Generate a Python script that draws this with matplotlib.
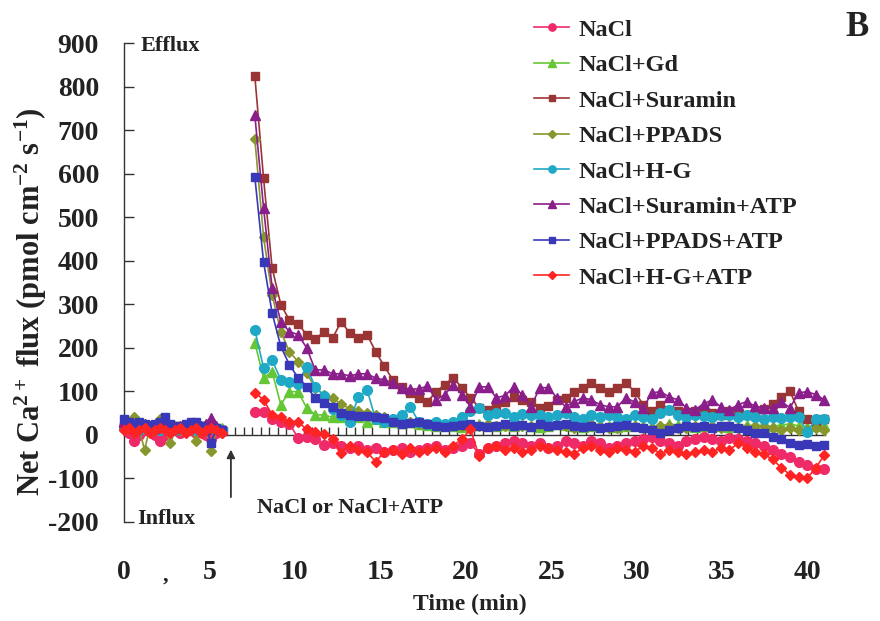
import numpy as np
import matplotlib
matplotlib.use("Agg")
import matplotlib.pyplot as plt
from matplotlib.ticker import FixedLocator

plt.rcParams['font.family'] = ['Liberation Serif', 'DejaVu Serif']
plt.rcParams['font.weight'] = 'bold'
plt.rcParams['axes.unicode_minus'] = False
plt.rcParams['mathtext.fontset'] = 'custom'
plt.rcParams['mathtext.rm'] = 'Liberation Serif:bold'
plt.rcParams['mathtext.it'] = 'Liberation Serif:bold'
plt.rcParams['mathtext.bf'] = 'Liberation Serif:bold'

# tiempos (min)
t_pre = [0.0, 0.3, 0.6, 0.9, 1.2, 1.5, 1.8, 2.1, 2.4, 2.7, 3.0, 3.3, 3.6, 3.9, 4.2, 4.5, 4.8, 5.1, 5.4, 5.7]
t_post = list(np.round(7.65 + 0.505 * np.arange(67), 2))

# antes del tratamiento
pre_nacl = [20, 5, -15, 0, 10, 10, 0, -15, 0, 10, 10, 5, 10, 10, 5, 10, 0, -10, 5, 10]
pre_gd = [25, 20, 15, 20, 25, 20, 15, 20, 25, 15, 20, 15, 20, 20, 15, 20, 25, 30, 20, 15]
pre_sur = [20, 15, 20, 25, 20, 15, 20, 25, 20, 15, 20, 15, 20, 25, 20, 15, 20, 25, 15, 10]
pre_ppads = [15, 25, 40, 10, -35, 15, 20, 35, 15, -20, 10, 10, 15, 20, -15, 10, 15, -38, 10, 5]
pre_hg = [15, 20, 15, 10, 15, 20, 15, 10, 20, 15, 10, 15, 20, 15, 10, 15, 20, 15, 10, 10]
pre_sur_atp = [30, 20, 15, 20, 25, 20, 15, 20, 25, 20, 15, 20, 15, 20, 25, 20, 25, 38, 20, 10]
pre_ppads_atp = [35, 30, 25, 30, 25, 20, 25, 30, 40, 25, 15, 20, 25, 30, 30, 20, 10, -18, 15, 10]
pre_hg_atp = [10, 15, 5, 10, 15, 5, 10, 15, 10, 5, 10, 15, 5, 10, 15, 5, 10, 15, 10, 5]

# despues del tratamiento
post_nacl = [53, 53, 35, 30, 25, -7, -5, -10, -23, -20, -25, -30, -25, -35, -30, -40, -35, -30, -40, -35,
             -30, -25, -35, -30, -25, -20, -45, -30, -25, -20, -15, -20, -25, -20, -30, -25, -15, -20, -25, -15,
             -20, -30, -25, -20, -15, -10, -5, -15, -20, -25, -15, -10, -5, -10, -15, -7, -10, -15, -20, -25,
             -35, -45, -51, -62, -70, -80, -80]
post_gd = [211, 131, 145, 69, 99, 99, 62, 46, 45, 40, 40, 35, 40, 30, 35, 30, 30, 28, 30, 25,
           22, 20, 25, 20, 18, 20, 25, 22, 20, 22, 20, 25, 20, 18, 20, 25, 22, 20, 18, 20,
           22, 20, 18, 20, 22, 20, 18, 20, 25, 22, 20, 18, 20, 22, 20, 18, 20, 22, 20, 18,
           20, 22, 25, 20, 18, 20, 22]
post_sur = [825, 590, 384, 299, 264, 255, 230, 220, 236, 222, 260, 234, 222, 230, 191, 157, 126, 110, 95, 85,
            76, 99, 115, 131, 108, 85, 62, 57, 64, 76, 87, 80, 76, 62, 65, 80, 85, 99, 108, 119,
            108, 99, 108, 119, 99, 69, 54, 69, 57, 55, 50, 55, 60, 50, 45, 55, 50, 45, 50, 60,
            70, 87, 100, 54, 35, 30, 35]
post_ppads = [680, 455, 322, 237, 191, 168, 142, 108, 92, 85, 70, 60, 55, 50, 45, 40, 35, 30, 30, 25,
              25, 20, 20, 25, 20, 15, 20, 25, 20, 20, 25, 20, 20, 25, 20, 25, 20, 15, 20, 25,
              20, 15, 15, 20, 20, 15, 15, 20, 20, 15, 15, 20, 20, 20, 15, 20, 15, 15, 20, 20,
              15, 10, 15, 10, 10, 15, 10]
post_hg = [241, 154, 172, 126, 122, 117, 156, 110, 90, 60, 45, 30, 87, 103, 35, 30, 35, 45, 64, 30,
           25, 30, 25, 30, 40, 55, 62, 45, 50, 50, 40, 48, 45, 46, 40, 45, 50, 40, 35, 45,
           40, 46, 40, 35, 45, 40, 35, 50, 57, 45, 40, 45, 42, 40, 45, 46, 40, 45, 40, 35,
           40, 38, 40, 40, 7, 35, 35]
post_sur_atp = [735, 522, 338, 260, 237, 230, 200, 149, 149, 140, 140, 135, 140, 140, 130, 126, 119, 108, 105, 105,
                112, 80, 92, 115, 92, 64, 110, 110, 85, 90, 110, 92, 64, 108, 108, 85, 64, 76, 85, 80,
                69, 64, 64, 85, 75, 62, 96, 99, 87, 80, 62, 57, 71, 80, 64, 57, 69, 76, 65, 62,
                62, 76, 62, 96, 99, 92, 80]
post_ppads_atp = [593, 398, 280, 203, 161, 131, 110, 85, 73, 64, 50, 45, 42, 42, 40, 38, 30, 25, 28, 30,
                  25, 20, 18, 20, 22, 25, 20, 18, 20, 25, 20, 22, 18, 25, 20, 22, 25, 20, 18, 20,
                  15, 18, 20, 22, 18, 15, 10, 5, 10, 15, 20, 18, 20, 15, 20, 20, 15, 10, 5, 5,
                  -5, -11, -18, -23, -22, -25, -23]
post_hg_atp = [97, 80, 46, 40, 30, 30, 12, 7, 2, -9, -41, -25, -35, -40, -62, -40, -35, -45, -30, -40,
               -35, -30, -40, -25, -10, 12, -50, -30, -25, -35, -30, -40, -35, -25, -30, -35, -40, -45, -30, -25,
               -35, -40, -30, -35, -40, -25, -30, -45, -35, -40, -45, -40, -35, -40, -30, -35, -20, -30, -40, -45,
               -57, -76, -92, -97, -100, -76, -46]

etiquetas = ["NaCl", "NaCl+Gd", "NaCl+Suramin", "NaCl+PPADS", "NaCl+H-G",
             "NaCl+Suramin+ATP", "NaCl+PPADS+ATP", "NaCl+H-G+ATP"]
colores = ['#EE2A68', '#66C736', '#993535', '#88962E', '#1FA9C6', '#8A1E8A', '#3838B8', '#FF2424']
marcas = ['o', '^', 's', 'D', 'o', '^', 's', 'D']
tam = [7, 7, 6, 5.5, 7, 7.5, 6, 5.5]
pre = [pre_nacl, pre_gd, pre_sur, pre_ppads, pre_hg, pre_sur_atp, pre_ppads_atp, pre_hg_atp]
post = [post_nacl, post_gd, post_sur, post_ppads, post_hg, post_sur_atp, post_ppads_atp, post_hg_atp]

fig = plt.figure(figsize=(8.8, 6.21), dpi=100)
ax = fig.add_axes([0.1313, 0.1530, 0.8642, 0.7842])
txt = '#222222'

for i in range(8):
    ax.plot(t_pre, pre[i], marker=marcas[i], ms=tam[i], color=colores[i], lw=1.2,
            mec=colores[i], clip_on=False, zorder=3 + i)
    ax.plot(t_post, post[i], marker=marcas[i], ms=tam[i], color=colores[i], lw=1.2,
            mec=colores[i], clip_on=False, zorder=3 + i, label=etiquetas[i])

ax.set_xlim(-0.5, 44)
ax.set_ylim(-210, 910)

for s in ['top', 'right']:
    ax.spines[s].set_visible(False)
ax.spines['left'].set_position(('data', 0))
ax.spines['left'].set_bounds(-200, 900)
ax.spines['bottom'].set_position(('data', 0))
ax.spines['bottom'].set_bounds(0, 41)
for s in ['left', 'bottom']:
    ax.spines[s].set_color('#333333')
    ax.spines[s].set_linewidth(1.0)

ax.set_yticks(range(-200, 901, 100))
ax.tick_params(axis='y', direction='in', length=7, width=1, pad=18, labelsize=20,
               colors='#333333', labelcolor=txt)

ax.set_xticks(range(0, 41, 5))
ax.xaxis.set_minor_locator(FixedLocator(np.arange(6.0, 41.01, 0.5)))
ax.tick_params(axis='x', which='major', length=0, pad=90, labelsize=20, labelcolor=txt)
ax.tick_params(axis='x', which='minor', direction='in', length=6, width=1, colors='#333333')

ax.set_xlabel("Time (min)", fontsize=17, fontweight='bold', color=txt)
ax.xaxis.set_label_coords(0.466, -0.14)
ax.set_ylabel("Net Ca$^{2+}$ flux (pmol cm$^{-2}$ s$^{-1}$)", fontsize=22,
              fontweight='bold', color=txt)
ax.yaxis.set_label_coords(-0.088, 0.46)

ax.text(0.95, 895, "Efflux", fontsize=16, fontweight='bold', color=txt, va='center', ha='left')
ax.text(0.75, -193, "Influx", fontsize=16, fontweight='bold', color=txt, va='center', ha='left')
ax.text(7.8, -168, "NaCl or NaCl+ATP", fontsize=16, fontweight='bold', color=txt, va='center', ha='left')
ax.text(2.4, -325, ",", fontsize=16, color=txt, va='center', ha='center', clip_on=False)
ax.annotate('', xy=(6.25, -28), xytext=(6.25, -150),
            arrowprops=dict(arrowstyle='-|>', color='#333333', lw=1.3, mutation_scale=12))

fig.text(0.974, 0.955, "B", fontsize=25, fontweight='bold', color=txt, ha='center', va='center')

leg = fig.legend(loc='upper left', bbox_to_anchor=(0.593, 0.989), frameon=False, fontsize=17.5,
                 handlelength=1.45, handletextpad=0.4, labelspacing=0.55, borderpad=0,
                 markerscale=0.75)
for t in leg.get_texts():
    t.set_color(txt)

fig.savefig("out.png", dpi=100)
